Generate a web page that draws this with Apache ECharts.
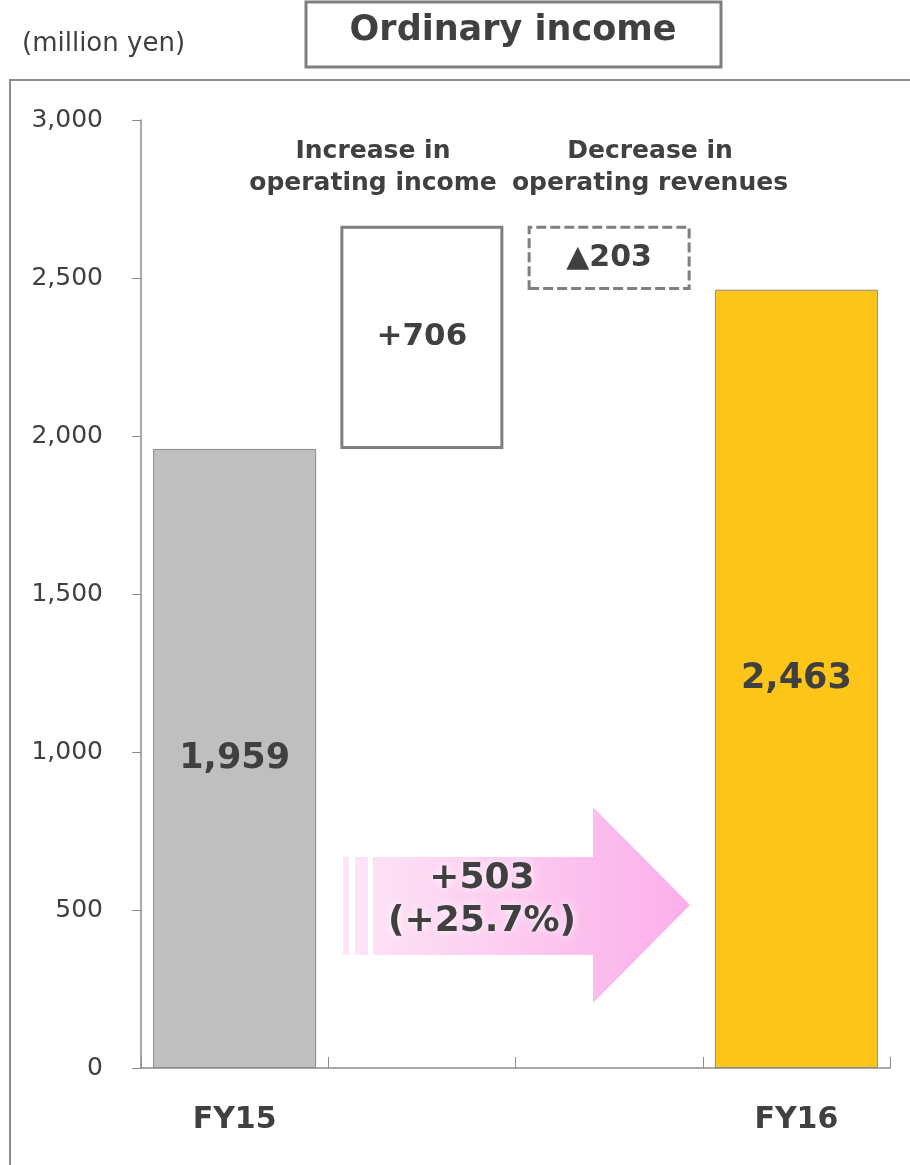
<!DOCTYPE html>
<html>
<head>
<meta charset="utf-8">
<script src="https://cdn.jsdelivr.net/npm/echarts@6/dist/echarts.min.js"></script>
<style>
  html, body { margin: 0; padding: 0; background: #fff; }
  #chart { width: 910px; height: 1165px; }
</style>
</head>
<body>
<div id="chart"></div>
<script>
// Ordinary income bridge, FY15 -> FY16 (million yen)
const categories = ['FY15', 'Increase in\noperating income', 'Decrease in\noperating revenues', 'FY16'];
const fy15 = 1959;
const increase = 706;
const decrease = 203;
const fy16 = 2463;
const changeText = '+503';
const changePct = '(+25.7%)';
const yTicks = [0, 500, 1000, 1500, 2000, 2500, 3000];

const TEXT = '#404040';
const EDGE = '#7f7f7f';
const FONT = 'DejaVu Sans';

// invisible base of the floating (bridge) bars
const baseValues = [0, fy15, fy15 + increase - decrease, 0];
const barValues = [fy15, increase, decrease, fy16];

const fmt = v => v.toLocaleString('en-US');

const chart = echarts.init(document.getElementById('chart'), null, { renderer: 'canvas' });

const pinkGrad = new echarts.graphic.LinearGradient(343, 0, 690, 0, [
  { offset: 0, color: '#fde6f6' },
  { offset: 1, color: '#fcaeea' }
], true);

chart.setOption({
  animation: false,
  backgroundColor: '#fff',
  textStyle: { fontFamily: FONT },
  grid: { left: 141, right: 20, top: 120, bottom: 97, containLabel: false },
  xAxis: {
    type: 'category',
    data: categories,
    axisLine: { lineStyle: { color: '#8c8c8c', width: 1.5 } },
    axisTick: { show: true, inside: true, length: 11, lineStyle: { color: '#8c8c8c' } },
    axisLabel: {
      margin: 37,
      color: TEXT,
      fontSize: 30,
      fontWeight: 'bold',
      fontFamily: FONT,
      formatter: (v, i) => (i === 0 || i === categories.length - 1) ? v : ''
    }
  },
  yAxis: {
    type: 'value',
    min: yTicks[0],
    max: yTicks[yTicks.length - 1],
    interval: yTicks[1] - yTicks[0],
    axisLine: { show: true, lineStyle: { color: '#8c8c8c', width: 1.5 } },
    axisTick: { show: true, length: 9, lineStyle: { color: '#8c8c8c' } },
    splitLine: { show: false },
    axisLabel: {
      margin: 38,
      color: TEXT,
      fontSize: 25,
      fontFamily: FONT,
      formatter: v => fmt(v)
    }
  },
  series: [
    {
      name: 'base',
      type: 'bar',
      stack: 'bridge',
      barWidth: 163,
      silent: true,
      itemStyle: { color: 'transparent' },
      data: baseValues
    },
    {
      name: 'Ordinary income',
      type: 'bar',
      stack: 'bridge',
      barWidth: 163,
      label: {
        show: true,
        position: 'inside',
        color: TEXT,
        fontWeight: 'bold',
        fontFamily: FONT
      },
      data: [
        {
          value: barValues[0],
          itemStyle: { color: '#bfbfbf', borderColor: '#8a8a8a', borderWidth: 1 },
          label: { formatter: fmt(barValues[0]), fontSize: 35 }
        },
        {
          value: barValues[1],
          itemStyle: { color: '#ffffff', borderColor: EDGE, borderWidth: 3 },
          label: { formatter: '+' + fmt(barValues[1]), fontSize: 31 }
        },
        {
          value: barValues[2],
          itemStyle: { color: '#ffffff', borderColor: EDGE, borderWidth: 3, borderType: [10, 4] },
          label: { formatter: '▲' + fmt(barValues[2]), fontSize: 30 }
        },
        {
          value: barValues[3],
          itemStyle: { color: '#fdc518', borderColor: '#8a8a8a', borderWidth: 1 },
          label: { formatter: fmt(barValues[3]), fontSize: 35 }
        }
      ]
    }
  ],
  graphic: [
    // outer frame
    {
      type: 'rect', z: -10, silent: true,
      shape: { x: 10, y: 80, width: 1000, height: 1200 },
      style: { fill: 'none', stroke: '#8c8c8c', lineWidth: 2 }
    },
    // unit note
    {
      type: 'text', left: 22, top: 31,
      style: { text: '(million yen)', fill: TEXT, font: '26px "' + FONT + '"' }
    },
    // title box
    {
      type: 'rect', z: 10,
      shape: { x: 306, y: 2, width: 415, height: 65 },
      style: { fill: '#fff', stroke: EDGE, lineWidth: 3 }
    },
    {
      type: 'text', z: 11, x: 513, y: 31,
      style: {
        text: 'Ordinary income', fill: TEXT, align: 'center', verticalAlign: 'middle',
        font: 'bold 35px "' + FONT + '"'
      }
    },
    // captions above the bridge steps
    {
      type: 'text', x: 373, y: 167,
      style: {
        text: categories[1], fill: TEXT, align: 'center', verticalAlign: 'middle',
        font: 'bold 25px "' + FONT + '"', lineHeight: 32
      }
    },
    {
      type: 'text', x: 650, y: 167,
      style: {
        text: categories[2], fill: TEXT, align: 'center', verticalAlign: 'middle',
        font: 'bold 25px "' + FONT + '"', lineHeight: 32
      }
    },
    // growth arrow
    {
      type: 'rect', z: 5, silent: true,
      shape: { x: 343, y: 857, width: 6, height: 98 },
      style: { fill: pinkGrad }
    },
    {
      type: 'rect', z: 5, silent: true,
      shape: { x: 355, y: 857, width: 13, height: 98 },
      style: { fill: pinkGrad }
    },
    {
      type: 'polygon', z: 5, silent: true,
      shape: {
        points: [[373, 857], [593, 857], [593, 807], [690, 905], [593, 1003], [593, 955], [373, 955]]
      },
      style: { fill: pinkGrad }
    },
    {
      type: 'text', z: 6, x: 482, y: 900,
      style: {
        text: changeText + '\n' + changePct, fill: TEXT, align: 'center', verticalAlign: 'middle',
        font: 'bold 36px "' + FONT + '"', lineHeight: 43,
        textShadowColor: '#ffffff', textShadowBlur: 8
      }
    }
  ]
});
</script>
</body>
</html>
